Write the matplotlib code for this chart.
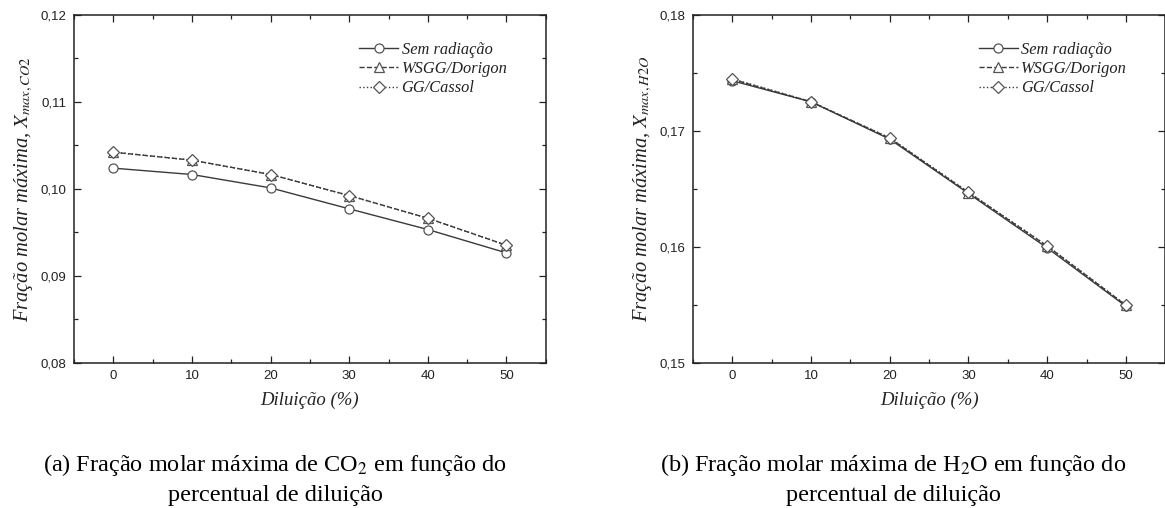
import matplotlib
matplotlib.use("Agg")
import matplotlib.pyplot as plt
from matplotlib.ticker import MultipleLocator, FuncFormatter

# dados
diluicao = [0, 10, 20, 30, 40, 50]

co2_sem = [0.10238, 0.10165, 0.10011, 0.0977, 0.09532, 0.09263]
co2_wsgg = [0.10422, 0.1033, 0.10165, 0.09923, 0.09662, 0.09351]
co2_gg = [0.10422, 0.1033, 0.10165, 0.09923, 0.09662, 0.09351]

h2o_sem = [0.17433, 0.17251, 0.16929, 0.1646, 0.1599, 0.15486]
h2o_wsgg = [0.17445, 0.17252, 0.16938, 0.16468, 0.16006, 0.15495]
h2o_gg = [0.17450, 0.17252, 0.16940, 0.16472, 0.16008, 0.15497]

legendas = ["Sem radiação", "WSGG/Dorigon", "GG/Cassol"]
serif = "Liberation Serif"
sans = "Liberation Sans"

plt.rcParams["mathtext.fontset"] = "stix"

fig = plt.figure(figsize=(11.65, 5.08), dpi=100)
ax1 = fig.add_axes([0.0635, 0.286, 0.405, 0.6845])
ax2 = fig.add_axes([0.5946, 0.286, 0.4058, 0.6845])


def desenha(ax, sem, wsgg, gg, ylim, especie):
    linha = "#3a3a3a"
    borda = "#555555"
    ax.plot(diluicao, sem, "-", color=linha, lw=1.0, marker="o", ms=6.5,
            mfc="white", mec=borda, mew=0.9, label=legendas[0])
    ax.plot(diluicao, wsgg, "--", color=linha, lw=1.0, marker="^", ms=6.5,
            mfc="white", mec=borda, mew=0.9, label=legendas[1])
    ax.plot(diluicao, gg, ":", color=linha, lw=1.0, marker="D", ms=6,
            mfc="white", mec=borda, mew=0.9, label=legendas[2])
    ax.set_xlim(-5, 55)
    ax.set_ylim(*ylim)
    ax.xaxis.set_major_locator(MultipleLocator(10))
    ax.xaxis.set_minor_locator(MultipleLocator(5))
    ax.yaxis.set_major_locator(MultipleLocator(0.01))
    ax.yaxis.set_minor_locator(MultipleLocator(0.005))
    ax.yaxis.set_major_formatter(FuncFormatter(lambda v, p: ("%.2f" % v).replace(".", ",")))
    ax.tick_params(which="both", direction="in", top=True, right=True,
                   labelsize=9.5, colors="#222222", width=0.9)
    ax.tick_params(which="major", length=5, pad=5.5)
    ax.tick_params(which="minor", length=3)
    for lab in ax.get_xticklabels() + ax.get_yticklabels():
        lab.set_family(sans)
    for s in ax.spines.values():
        s.set_linewidth(1.1)
        s.set_color("#222222")
    ax.set_xlabel("Diluição (%)", family=serif, style="italic", fontsize=13.5,
                  color="#222222", labelpad=7)
    ax.set_ylabel("Fração molar máxima, $X_{max,%s}$" % especie, family=serif,
                  style="italic", fontsize=14.8, color="#222222", labelpad=4)
    leg = ax.legend(loc="upper right", bbox_to_anchor=(0.95, 0.965), frameon=False,
                    prop={"family": serif, "style": "italic", "size": 11.8},
                    handlelength=2.4, handletextpad=0.2, labelspacing=0.2)
    for t in leg.get_texts():
        t.set_color("#222222")


desenha(ax1, co2_sem, co2_wsgg, co2_gg, (0.08, 0.12), "CO2")
desenha(ax2, h2o_sem, h2o_wsgg, h2o_gg, (0.15, 0.18), "H2O")

# legendas das figuras
fig.text(0.236, 0.085, "(a) Fração molar máxima de CO$_2$ em função do",
         ha="center", va="center", family=serif, fontsize=17.5)
fig.text(0.236, 0.025, "percentual de diluição",
         ha="center", va="center", family=serif, fontsize=17.5)
fig.text(0.767, 0.085, "(b) Fração molar máxima de H$_2$O em função do",
         ha="center", va="center", family=serif, fontsize=17.5)
fig.text(0.767, 0.025, "percentual de diluição",
         ha="center", va="center", family=serif, fontsize=17.5)

fig.savefig("out.png", dpi=100)
